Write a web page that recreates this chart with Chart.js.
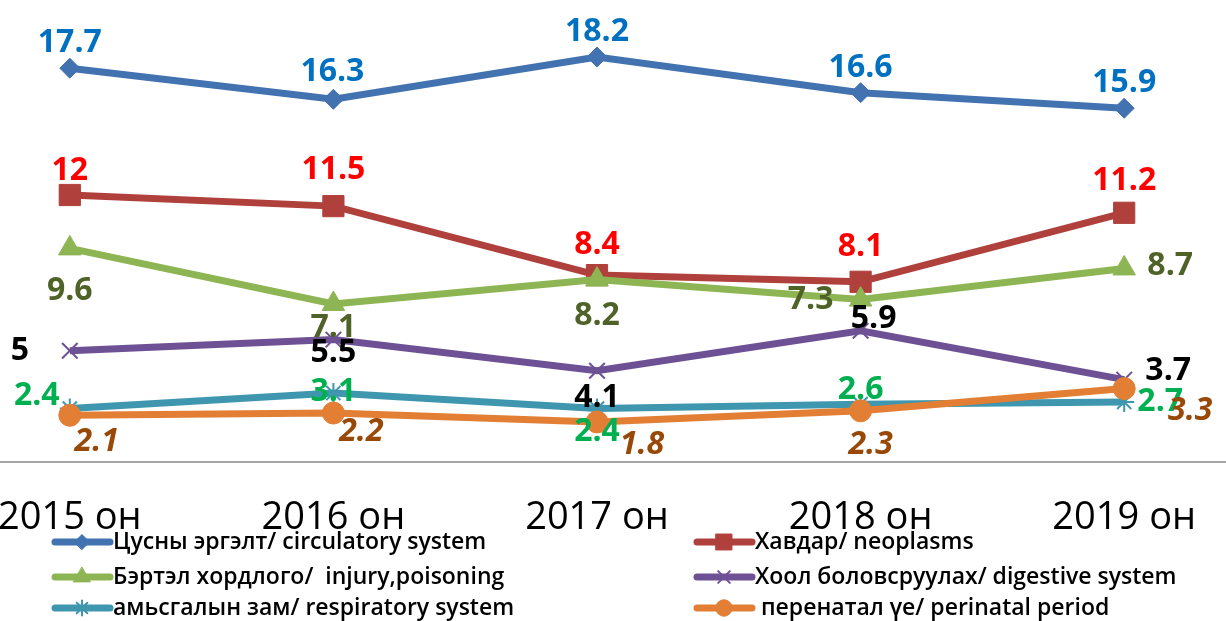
<!DOCTYPE html>
<html>
<head>
<meta charset="utf-8">
<script src="https://cdn.jsdelivr.net/npm/chart.js@4.4.1/dist/chart.umd.min.js"></script>
<style>
  html, body { margin: 0; padding: 0; background: #fff; overflow: hidden; }
  #wrap { position: absolute; left: -62px; top: 0; width: 1318px; height: 621px; }
</style>
</head>
<body>
<div id="wrap"><canvas id="deathChart" width="1318" height="621"></canvas></div>
<script>
// categories and values
const years = ['2015 он', '2016 он', '2017 он', '2018 он', '2019 он'];
const circulatory = [17.7, 16.3, 18.2, 16.6, 15.9];
const neoplasms = [12, 11.5, 8.4, 8.1, 11.2];
const injury = [9.6, 7.1, 8.2, 7.3, 8.7];
const digestive = [5, 5.5, 4.1, 5.9, 3.7];
const respiratory = [2.4, 3.1, 2.4, 2.6, 2.7];
const perinatal = [2.1, 2.2, 1.8, 2.3, 3.3];

const seriesNames = [
  'Цусны эргэлт/ circulatory system',
  'Хавдар/ neoplasms',
  'Бэртэл хордлого/  injury,poisoning',
  'Хоол боловсруулах/ digestive system',
  'амьсгалын зам/ respiratory system',
  ' перенатал үе/ perinatal period'
];

// styling
const SHIFT = 62; // canvas starts left of the page
const lineColors = ['#4272B0', '#B0403C', '#8DB553', '#6E5195', '#3E97AF', '#E27F34'];
const labelColors = ['#0070C0', '#FF0000', '#4F6228', '#000000', '#00B050', '#984807'];
const pointStyles = ['rectRot', 'rect', 'triangle', 'crossRot', 'star', 'circle'];
const pointRadii = [10, 15, 13, 11, 10, 11];

// where each value label sits relative to its point (px)
const labelOffsets = [
  [[0, -25], [-1, -27], [0, -25], [0, -25], [0, -25]],
  [[0, -24], [0, -36], [0, -30], [0, -35], [0, -32]],
  [[0, 42], [0, 24], [0, 36], [-50, 0], [46, -3]],
  [[-50, 0], [0, 13], [0, 27], [13, -12], [44, -9]],
  [[-33, -13], [0, -1], [0, 23], [0, -14], [36, 0]],
  [[27, 27], [28, 19], [45, 23], [10, 34], [66, 22]]
];

const allSeries = [circulatory, neoplasms, injury, digestive, respiratory, perinatal];

const datasets = allSeries.map((values, i) => ({
  label: seriesNames[i],
  data: values,
  borderColor: lineColors[i],
  backgroundColor: lineColors[i],
  borderWidth: 7,
  tension: 0,
  pointStyle: pointStyles[i],
  pointRadius: pointRadii[i],
  pointHoverRadius: pointRadii[i],
  pointBackgroundColor: lineColors[i],
  pointBorderColor: lineColors[i],
  pointBorderWidth: (pointStyles[i] === 'crossRot' || pointStyles[i] === 'star') ? 2 : 1,
  order: 6 - i
}));

// value labels next to the points
const valueLabels = {
  id: 'valueLabels',
  afterDatasetsDraw(chart) {
    const ctx = chart.ctx;
    chart.data.datasets.forEach((ds, i) => {
      const meta = chart.getDatasetMeta(i);
      meta.data.forEach((pt, j) => {
        const off = labelOffsets[i][j];
        ctx.save();
        ctx.font = (i === 5 ? 'italic ' : '') + 'bold 32px "Open Sans"';
        ctx.fillStyle = labelColors[i];
        ctx.textAlign = 'center';
        ctx.textBaseline = 'middle';
        ctx.fillText(String(ds.data[j]), pt.x + off[0], pt.y + off[1]);
        ctx.restore();
      });
    });
  }
};

// legend in two aligned columns
const columnLegend = {
  id: 'columnLegend',
  afterDraw(chart) {
    const ctx = chart.ctx;
    const colX = [55 + SHIFT, 697 + SHIFT];
    const rowY = [542, 577, 608];
    chart.data.datasets.forEach((ds, i) => {
      const x = colX[i % 2];
      const y = rowY[Math.floor(i / 2)];
      ctx.save();
      ctx.strokeStyle = lineColors[i];
      ctx.lineWidth = 7;
      ctx.lineCap = 'round';
      ctx.beginPath();
      ctx.moveTo(x, y);
      ctx.lineTo(x + 55, y);
      ctx.stroke();
      ctx.fillStyle = lineColors[i];
      ctx.lineWidth = ds.pointBorderWidth;
      Chart.helpers.drawPoint(ctx, {
        pointStyle: pointStyles[i],
        radius: pointRadii[i] * 0.75,
        rotation: 0,
        borderWidth: ds.pointBorderWidth
      }, x + 27, y);
      ctx.fillStyle = '#000';
      ctx.font = '600 23px "Open Sans"';
      ctx.textAlign = 'left';
      ctx.textBaseline = 'middle';
      ctx.fillText(ds.label, x + 58, y);
      ctx.restore();
    });
  }
};

new Chart(document.getElementById('deathChart').getContext('2d'), {
  type: 'line',
  data: { labels: years, datasets: datasets },
  options: {
    responsive: false,
    animation: false,
    layout: { autoPadding: false, padding: { top: 17, bottom: 83, left: 0, right: 0 } },
    plugins: {
      legend: { display: false },
      tooltip: { enabled: false }
    },
    scales: {
      x: {
        offset: true,
        grid: { display: false },
        border: { display: true, color: '#A6A6A6', width: 2 },
        afterFit(scale) { scale.height = 76; },
        ticks: {
          color: '#000',
          padding: 25,
          maxRotation: 0,
          font: { family: 'Open Sans', size: 38 }
        }
      },
      y: {
        display: false,
        min: 0,
        max: 20
      }
    }
  },
  plugins: [valueLabels, columnLegend]
});
</script>
</body>
</html>
